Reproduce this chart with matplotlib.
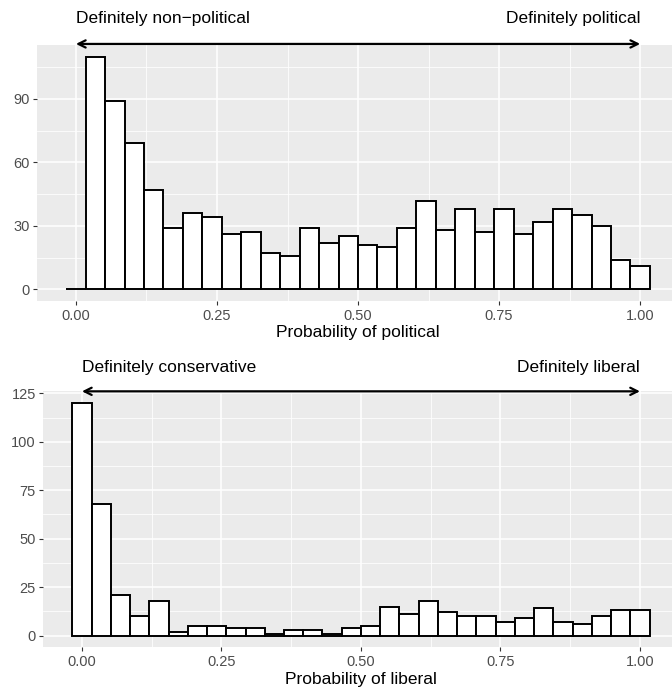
#!/usr/bin/env python3

import matplotlib
matplotlib.use('Agg')
import matplotlib.pyplot as plt
import numpy as np


#%%  Data (counts, 30 bins each)
n_bins = 30
top_counts = [0, 110, 89, 69, 47, 29, 36, 34, 26, 27, 17, 16, 29, 22, 25,
              21, 20, 29, 42, 28, 38, 27, 38, 26, 32, 38, 35, 30, 14, 11]
bot_counts = [120, 68, 21, 10, 18, 2, 5, 5, 4, 4, 1, 3, 3, 1, 4,
              5, 15, 11, 18, 12, 10, 10, 7, 9, 14, 7, 6, 10, 13, 13]

x_ticks = [0, 0.25, 0.5, 0.75, 1.0]
x_ticklabels = ['0.00', '0.25', '0.50', '0.75', '1.00']
top_yticks = [0, 30, 60, 90]
bot_yticks = [0, 25, 50, 75, 100, 125]

top_labels = ('Definitely non\u2212political', 'Definitely political')
bot_labels = ('Definitely conservative', 'Definitely liberal')
top_xlabel = 'Probability of political'
bot_xlabel = 'Probability of liberal'


#%%  Plotting
plt.rcParams.update({'font.family': ['Liberation Sans', 'DejaVu Sans']})

fig = plt.figure(figsize=(6.72, 6.88), dpi=100)
ax_top = fig.add_axes([0.0551, 0.5625, 0.9554, 0.3721])
ax_bot = fig.add_axes([0.0647, 0.0592, 0.9449, 0.3720])

# bin centres run from 0 to 1
width = 1 / (n_bins - 1)
centres = np.arange(n_bins) * width


def style_panel(ax, counts, yticks, labels, xlabel, arrow_y, text_y):
    ax.set_facecolor('#EBEBEB')
    for s in ax.spines.values():
        s.set_visible(False)

    ax.bar(centres, counts, width=width, color='white', edgecolor='black',
           linewidth=1.4, zorder=3)

    lo, hi = -width / 2, 1 + width / 2
    pad = 0.05 * (hi - lo)
    ax.set_xlim(lo - pad, hi + pad)
    ymax = max(counts)
    ax.set_ylim(-0.05 * ymax, 1.05 * ymax)

    ax.set_xticks(x_ticks)
    ax.set_xticklabels(x_ticklabels)
    ax.set_yticks(yticks)
    ax.set_xticks([0.125, 0.375, 0.625, 0.875], minor=True)
    ax.set_yticks([(a + b) / 2 for a, b in zip(yticks[:-1], yticks[1:])]
                  + ([yticks[-1] + (yticks[1] - yticks[0]) / 2]
                     if yticks[-1] + (yticks[1] - yticks[0]) / 2 < 1.05 * ymax else []),
                  minor=True)

    ax.grid(which='major', color='white', lw=1.1, zorder=0)
    ax.grid(which='minor', color='white', lw=0.55, zorder=0)
    ax.set_axisbelow(True)

    ax.tick_params(which='major', length=3, width=0.8, color='#333333',
                   labelcolor='#4D4D4D', labelsize=10.5, pad=2.5)
    ax.tick_params(which='minor', length=0)

    ax.set_xlabel(xlabel, fontsize=12.5, labelpad=2)

    # double-headed arrow across the top of the panel
    ax.annotate('', xy=(1, arrow_y), xytext=(0, arrow_y),
                arrowprops=dict(arrowstyle='<->', lw=1.6, color='black',
                                mutation_scale=13, shrinkA=0, shrinkB=0),
                annotation_clip=False)
    ax.text(0, text_y, labels[0], fontsize=12.5, ha='left', va='baseline', clip_on=False)
    ax.text(1, text_y, labels[1], fontsize=12.5, ha='right', va='baseline', clip_on=False)


style_panel(ax_top, top_counts, top_yticks, top_labels, top_xlabel, 116, 126)
style_panel(ax_bot, bot_counts, bot_yticks, bot_labels, bot_xlabel, 126, 136)

fig.savefig('out.png', dpi=100)
